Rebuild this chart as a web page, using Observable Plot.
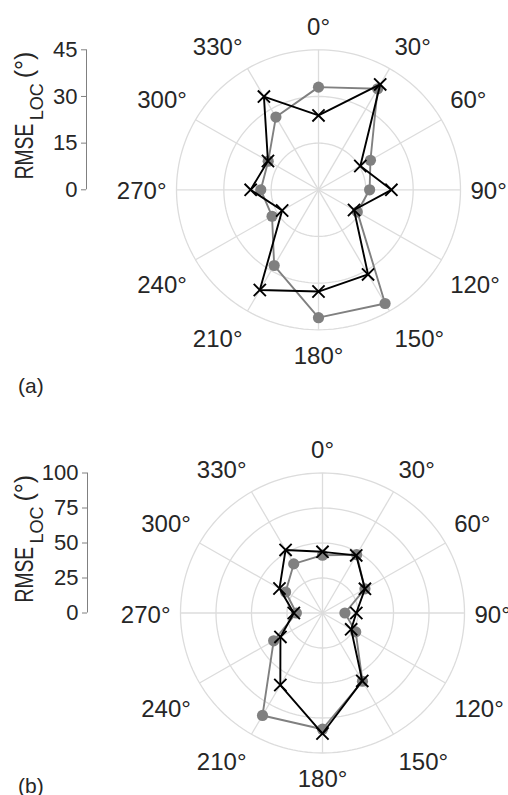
<!DOCTYPE html>
<html><head><meta charset="utf-8">
<script src="https://cdn.jsdelivr.net/npm/d3@7"></script>
<script src="https://cdn.jsdelivr.net/npm/@observablehq/plot@0.6"></script>
<style>
html,body{margin:0;padding:0;background:#fff;}
body{width:508px;height:795px;overflow:hidden;position:relative;font-family:"Liberation Sans",Arial,sans-serif;}
.panel{position:absolute;left:0;}
#pa{top:0;} #pb{top:400px;}
svg{display:block;}
</style></head>
<body>
<div id="pa" class="panel"></div>
<div id="pb" class="panel"></div>
<script>
// ---- data ----
const angles = [0, 30, 60, 90, 120, 150, 180, 210, 240, 270, 300, 330];
const angleLabels = ["0°", "30°", "60°", "90°", "120°", "150°", "180°", "210°", "240°", "270°", "300°", "330°"];

// panel (a)
const grayA  = [33.0, 37.5, 19.0, 16.2, 14.2, 42.2, 41.1, 28.1, 17.0, 18.3, 18.4, 27.0];
const blackA = [23.9, 39.1, 15.3, 23.1, 13.0, 31.4, 32.7, 37.2, 13.3, 21.5, 18.5, 34.6];
const ringsA = [15, 30, 45];
const ticksA = [0, 15, 30, 45];

// panel (b)
const grayB  = [41.3, 48.1, 34.5, 15.8, 27.0, 56.3, 83.0, 84.5, 39.7, 18.4, 30.0, 40.5];
const blackB = [43.7, 47.5, 34.5, 23.8, 23.3, 56.0, 86.1, 59.4, 34.2, 20.2, 35.0, 52.0];
const ringsB = [25, 50, 75, 100];
const ticksB = [0, 25, 50, 75, 100];

const panelLabels = ["(a)", "(b)"];
const axisTitle = ["RMSE", "LOC", "(°)"];

// ---- label placement style (MATLAB-like alignment) ----
function labelStyle(a) {
  const textAnchor = (a === 0 || a === 180) ? "middle" : (a < 180 ? "start" : "end");
  let lineAnchor, dy;
  if (a === 90 || a === 270) { lineAnchor = "middle"; dy = 2; }
  else if (a < 90 || a > 270) { lineAnchor = "bottom"; dy = (a === 60 || a === 300) ? -4 : (a === 0 ? 0 : -1); }
  else { lineAnchor = "top"; dy = (a === 120 || a === 240) ? 9 : (a === 180 ? 2 : 6); }
  return {textAnchor, lineAnchor, dy};
}

// ---- drawing ----
const rad = a => a * Math.PI / 180;
const px = (r, a) => r * Math.sin(rad(a));
const py = (r, a) => r * Math.cos(rad(a));
const FONT = '"Liberation Sans", Arial, sans-serif';

function panel(el, cfg) {
  const {W, H, cx, cy, Rx, Ry, axisPx, rMax, rings, ticks, gray, black, tag} = cfg;
  const toPts = vals => angles.map((a, i) => ({angle: a, r: vals[i], x: px(vals[i], a), y: py(vals[i], a)}));
  const grayPts = toPts(gray);
  const blackPts = toPts(black);
  const ringPts = rings.flatMap(r => d3.range(0, 361, 2).map(a => ({ring: r, x: px(r, a), y: py(r, a)})));
  const labRx = rMax * 152 / Rx, labRy = rMax * 155 / Ry;
  const axisXVal = -rMax * (cx - axisPx) / Rx;
  const grid = "#dcdcdc";

  // group labels by their alignment style
  const groups = d3.groups(angles, a => JSON.stringify(labelStyle(a)));
  const labelMarks = groups.map(([key, as]) => {
    const st = JSON.parse(key);
    return Plot.text(as, {
      x: a => px(labRx, a), y: a => py(labRy, a),
      text: a => angleLabels[angles.indexOf(a)],
      textAnchor: st.textAnchor, lineAnchor: st.lineAnchor, dy: st.dy,
      fontSize: 24, fill: "#262626"
    });
  });

  const svg = Plot.plot({
    width: W, height: H,
    marginLeft: axisPx, marginTop: 0, marginRight: 0, marginBottom: 0,
    style: {fontFamily: FONT, background: "transparent", overflow: "visible"},
    x: {domain: [-rMax, rMax], range: [cx - Rx, cx + Rx], axis: null},
    y: {domain: [-rMax, rMax], range: [cy + Ry, cy - Ry], axis: null},
    marks: [
      Plot.line(ringPts, {x: "x", y: "y", z: "ring", stroke: grid, strokeWidth: 1.3}),
      Plot.link(angles, {x1: 0, y1: 0, x2: a => px(rMax, a), y2: a => py(rMax, a), stroke: grid, strokeWidth: 1.3}),
      ...labelMarks,
      Plot.line(grayPts, {x: "x", y: "y", curve: "linear-closed", stroke: "#808080", strokeWidth: 1.9}),
      Plot.dot(grayPts, {x: "x", y: "y", r: 5.6, fill: "#808080", stroke: "none"}),
      Plot.line(blackPts, {x: "x", y: "y", curve: "linear-closed", stroke: "#000", strokeWidth: 1.9}),
      Plot.dot(blackPts, {x: "x", y: "y", symbol: "times", r: 5.6, stroke: "#000", strokeWidth: 1.9}),
      Plot.ruleX([axisXVal], {y1: 0, y2: rMax, stroke: "#808080", strokeWidth: 1}),
      Plot.axisY({ticks, anchor: "left", tickSize: 5, tickPadding: 4, fontSize: 22, stroke: "#808080", fill: "#262626", tickFormat: d => String(d), label: null})
    ]
  });

  const s = d3.select(svg);
  const ink = "#262626";
  const addText = (tr, size, str) => s.append("text").attr("transform", tr)
    .attr("text-anchor", "start").attr("font-size", size).attr("fill", ink)
    .attr("font-family", FONT).text(str);
  // rotated axis title with subscript
  addText(`translate(33,${cy - 10}) rotate(-90) scale(0.77,1)`, 25, axisTitle[0]);
  addText(`translate(43,${cy - 69}) rotate(-90)`, 18, axisTitle[1]);
  addText(`translate(33,${cy - 111}) rotate(-90)`, 25, axisTitle[2]);
  // panel tag
  addText(`translate(18,393)`, 21, tag);

  document.getElementById(el).appendChild(svg);
}

panel("pa", {W: 508, H: 400, cx: 318, cy: 189.3, Rx: 142, Ry: 140, axisPx: 86, rMax: 45, rings: ringsA, ticks: ticksA, gray: grayA, black: blackA, tag: panelLabels[0]});
panel("pb", {W: 508, H: 395, cx: 322, cy: 212.5, Rx: 142, Ry: 140, axisPx: 87, rMax: 100, rings: ringsB, ticks: ticksB, gray: grayB, black: blackB, tag: panelLabels[1]});
</script>
</body></html>
